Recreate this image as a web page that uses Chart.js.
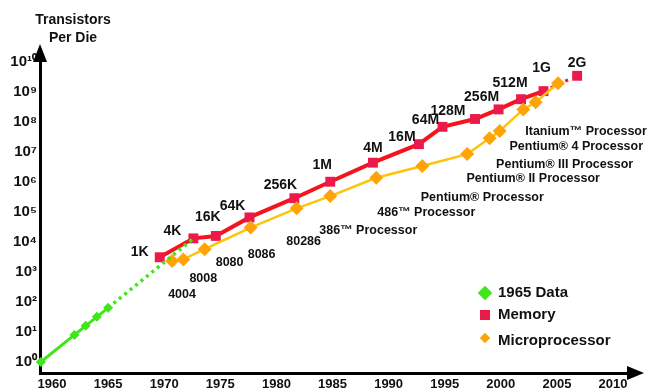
<!DOCTYPE html>
<html>
<head>
<meta charset="utf-8">
<script src="https://cdn.jsdelivr.net/npm/chart.js@4.4.1/dist/chart.umd.min.js"></script>
<style>
  body { margin: 0; background: #fff; }
  #wrap { width: 647px; height: 392px; }
</style>
</head>
<body>
<div id="wrap"><canvas id="mooreChart"></canvas></div>
<script>
// values
const mooreYears = [1959, 1962, 1963, 1964, 1965];
const mooreCounts = [1, 8, 16, 32, 64];
const trendYears = [1965, 1972.6];
const trendCounts = [64, 13000];

const memYears = [1969.6, 1972.6, 1974.6, 1977.6, 1981.6, 1984.8, 1988.6, 1992.7, 1994.8, 1997.7, 1999.8, 2001.8, 2003.8, 2006.8];
const memCounts = [3100, 13200, 15900, 66000, 288000, 1.02e6, 4.4e6, 1.82e7, 6.9e7, 1.26e8, 2.63e8, 5.75e8, 1.07e9, 3.47e9];
const memLabels = ["1K", "4K", "16K", "64K", "256K", "1M", "4M", "16M", "64M", "128M", "256M", "512M", "1G", "2G"];

const cpuYears = [1970.7, 1971.7, 1973.6, 1977.7, 1981.8, 1984.8, 1988.9, 1993.0, 1997.0, 1999.0, 1999.9, 2002.0, 2003.1, 2005.1];
const cpuCounts = [2340, 2630, 5750, 30200, 132000, 339000, 1.38e6, 3.39e6, 8.5e6, 2.88e7, 5.0e7, 2.63e8, 4.57e8, 1.95e9];
const cpuLabels = ["4004", "8008", "8080", "8086", "80286", "386\u2122 Processor", "486\u2122 Processor",
  "Pentium\u00ae Processor", "Pentium\u00ae II Processor", "Pentium\u00ae III Processor", "",
  "Pentium\u00ae 4 Processor", "", "Itanium\u2122 Processor"];

const xTickYears = [1960, 1965, 1970, 1975, 1980, 1985, 1990, 1995, 2000, 2005, 2010];
const yTickPowers = [0, 1, 2, 3, 4, 5, 6, 7, 8, 9, 10];
const legendNames = ["1965 Data", "Memory", "Microprocessor"];

// label placement (pixels from the point)
const memLabelOffsets = [[-20, -5], [-21, -7], [-8, -19], [-17, -11], [-14, -13], [-8, -17], [0, -15],
  [-17, -7], [-17, -7], [-27, -8], [-17, -12], [-11, -16], [-2, -23], [0, -13]];
const cpuLabelOffsets = [[10, 34], [20, 19], [25, 13], [11, 27], [7, 33], [38, 34], [50, 35],
  [60, 31], [66, 24], [75, 26], [0, 0], [53, 37], [0, 0], [28, 48]];

const GREEN = "#3fe619";
const RED = "#f5141e";
const RED_PT = "#ec1a4b";
const GOLD = "#ffc40a";
const ORANGE = "#ffa408";
const FONT = "'Liberation Sans', Arial, Helvetica, sans-serif";

const sup = { "0": "\u2070", "1": "\u00b9", "2": "\u00b2", "3": "\u00b3", "4": "\u2074",
  "5": "\u2075", "6": "\u2076", "7": "\u2077", "8": "\u2078", "9": "\u2079" };

function pts(xs, ys) {
  return xs.map((x, i) => ({ x: x, y: ys[i] }));
}

const extras = {
  id: "extras",
  afterDatasetsDraw(chart) {
    const ctx = chart.ctx;
    ctx.save();
    ctx.fillStyle = "#111";
    ctx.textAlign = "center";
    ctx.textBaseline = "middle";

    // memory sizes
    ctx.font = "bold 14px " + FONT;
    chart.getDatasetMeta(3).data.forEach((p, i) => {
      const o = memLabelOffsets[i];
      ctx.fillText(memLabels[i], p.x + o[0], p.y + o[1]);
    });

    // processor names
    ctx.font = "bold 12.5px " + FONT;
    chart.getDatasetMeta(2).data.forEach((p, i) => {
      if (!cpuLabels[i]) return;
      const o = cpuLabelOffsets[i];
      ctx.fillText(cpuLabels[i], p.x + o[0], p.y + o[1]);
    });

    // axis title
    ctx.font = "bold 14px " + FONT;
    ctx.fillText("Transistors", 73, 20);
    ctx.fillText("Per Die", 73, 38);

    // legend
    const items = [
      { style: "rectRot", r: 7, color: GREEN },
      { style: "rect", r: 7, color: RED_PT },
      { style: "rectRot", r: 5, color: ORANGE }
    ];
    const lx = 485, ly = [293, 315, 341];
    ctx.textAlign = "left";
    ctx.font = "bold 15px " + FONT;
    items.forEach((it, i) => {
      ctx.fillStyle = it.color;
      ctx.beginPath();
      Chart.helpers.drawPoint(ctx, { pointStyle: it.style, radius: it.r, rotation: 0 }, lx, ly[i] - (i === 2 ? 3 : 0));
      ctx.fill();
      ctx.fillStyle = "#111";
      ctx.fillText(legendNames[i], 498, ly[i]);
    });

    // arrow heads
    const a = chart.chartArea;
    ctx.fillStyle = "#000";
    ctx.beginPath();
    ctx.moveTo(a.left, a.top - 14);
    ctx.lineTo(a.left - 7, a.top + 4);
    ctx.lineTo(a.left + 7, a.top + 4);
    ctx.closePath();
    ctx.fill();
    ctx.beginPath();
    ctx.moveTo(a.right + 12, a.bottom);
    ctx.lineTo(a.right - 5, a.bottom - 7);
    ctx.lineTo(a.right - 5, a.bottom + 7);
    ctx.closePath();
    ctx.fill();
    ctx.restore();
  }
};

const lastMem = memYears.length - 1;

new Chart(document.getElementById("mooreChart"), {
  type: "line",
  data: {
    datasets: [
      {
        label: legendNames[0],
        data: pts(mooreYears, mooreCounts),
        borderColor: GREEN,
        backgroundColor: GREEN,
        borderWidth: 3,
        pointStyle: "rectRot",
        pointRadius: 5,
        pointBorderWidth: 0
      },
      {
        label: "trend",
        data: pts(trendYears, trendCounts),
        borderColor: GREEN,
        borderWidth: 3.5,
        borderDash: [3, 4],
        pointRadius: 0
      },
      {
        label: legendNames[2],
        data: pts(cpuYears, cpuCounts),
        borderColor: GOLD,
        backgroundColor: ORANGE,
        borderWidth: 2.5,
        pointStyle: "rectRot",
        pointRadius: 7,
        pointBorderWidth: 0
      },
      {
        label: legendNames[1],
        data: pts(memYears, memCounts),
        borderColor: RED,
        backgroundColor: RED_PT,
        borderWidth: 4,
        pointStyle: "rect",
        pointRadius: 7,
        pointBorderWidth: 0,
        segment: {
          borderDash: c => c.p1DataIndex === lastMem ? [3, 5] : undefined,
          borderWidth: c => c.p1DataIndex === lastMem ? 3 : undefined
        }
      }
    ]
  },
  options: {
    responsive: true,
    maintainAspectRatio: false,
    animation: false,
    clip: false,
    layout: { padding: { top: 58, right: 15, left: 0, bottom: 0 } },
    plugins: {
      legend: { display: false },
      tooltip: { enabled: false }
    },
    scales: {
      x: {
        type: "linear",
        min: 1958.93,
        max: 2011.69,
        grid: { display: false, drawTicks: false },
        border: { display: true, color: "#000", width: 3 },
        afterBuildTicks: s => { s.ticks = xTickYears.map(v => ({ value: v })); },
        afterFit: s => { s.height = 19; },
        ticks: {
          autoSkip: false,
          maxRotation: 0,
          padding: 4,
          color: "#111",
          font: { family: FONT, size: 13, weight: "bold" },
          callback: v => String(v)
        }
      },
      y: {
        type: "logarithmic",
        min: Math.pow(10, -0.367),
        max: Math.pow(10, 10.133),
        grid: { display: false, drawTicks: false },
        border: { display: true, color: "#000", width: 3 },
        afterBuildTicks: s => { s.ticks = yTickPowers.map(p => ({ value: Math.pow(10, p) })); },
        afterFit: s => { s.width = 40; },
        ticks: {
          autoSkip: false,
          padding: 3,
          color: "#111",
          font: { family: FONT, size: 15, weight: "bold" },
          callback: v => "10" + String(Math.round(Math.log10(v))).split("").map(d => sup[d]).join("")
        }
      }
    }
  },
  plugins: [extras]
});
</script>
</body>
</html>
